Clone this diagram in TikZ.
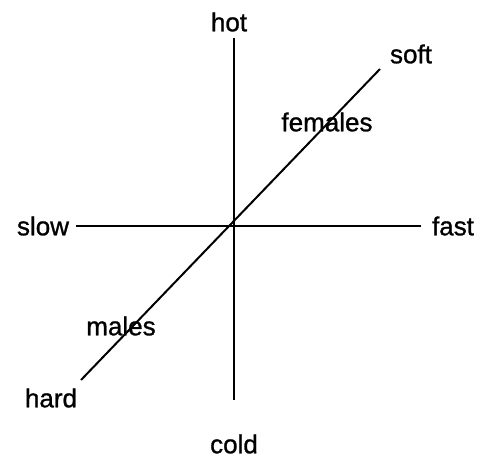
\documentclass[tikz,border=0pt]{standalone}
\usepackage{fontspec}
\setmainfont{Liberation Sans}
\newfontfamily\lblfont[FakeBold=1.0]{Liberation Sans}
\begin{document}
\begin{tikzpicture}[x=1pt,y=-1pt,
  lbl/.style={inner sep=0pt,font=\lblfont\fontsize{26}{28}\selectfont},
  axis/.style={line width=2pt,line cap=butt}]
\useasboundingbox (0,0) rectangle (480,458);
\coordinate (top) at (234,38);
\coordinate (bot) at (234,400);
\coordinate (left) at (76,226);
\coordinate (right) at (421,226);
\coordinate (hardend) at (81,380);
\coordinate (softend) at (380,69);
\draw[axis] (top) -- (bot);
\draw[axis] (left) -- (right);
\draw[axis] (hardend) -- (softend);
\node[lbl] (hot) at (229,22) {hot};
\node[lbl] (cold) at (234,444) {cold};
\node[lbl] (slow) at (43,226) {slow};
\node[lbl] (fast) at (453,226) {fast};
\node[lbl] (soft) at (411,54) {soft};
\node[lbl] (hard) at (51,398) {hard};
\node[lbl] (females) at (327,122) {females};
\node[lbl] (males) at (121,326) {males};
\end{tikzpicture}
\end{document}
